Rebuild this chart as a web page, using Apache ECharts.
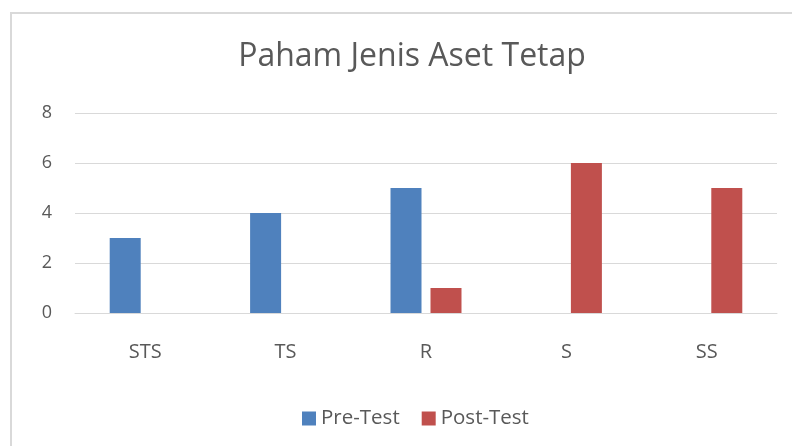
<!DOCTYPE html>
<html>
<head>
<meta charset="utf-8">
<script src="https://cdn.jsdelivr.net/npm/echarts@6/dist/echarts.min.js"></script>
<style>
  html, body { margin: 0; padding: 0; background: #fff; }
  #frame {
    position: absolute; left: 10px; top: 12px;
    width: 800px; height: 460px;
    border: 2px solid #d9d9d9;
    box-sizing: border-box;
  }
  #chart {
    position: absolute; left: 0; top: 0;
    width: 792px; height: 446px;
  }
</style>
</head>
<body>
<div id="frame"></div>
<div id="chart"></div>
<script>
// data
var categories = ["STS", "TS", "R", "S", "SS"];
var preTest = [3, 4, 5, 0, 0];
var postTest = [0, 0, 1, 6, 5];
var yTicks = [0, 2, 4, 6, 8];

var txt = "#595959";
var font = "'Open Sans', 'Noto Sans', sans-serif";

var chart = echarts.init(document.getElementById("chart"));
var option = {
  animation: false,
  textStyle: { fontFamily: font },
  title: {
    text: "Paham Jenis Aset Tetap",
    left: 407,
    textAlign: "center",
    top: 36,
    textStyle: { fontSize: 32, fontWeight: "normal", color: txt, fontFamily: font }
  },
  legend: {
    bottom: 12,
    left: 297,
    itemWidth: 14,
    itemHeight: 14,
    itemGap: 22,
    icon: "rect",
    textStyle: { fontSize: 20.5, color: txt, fontFamily: font }
  },
  grid: { left: 75, right: 15, top: 113, bottom: 133 },
  xAxis: {
    type: "category",
    data: categories,
    axisTick: { show: false },
    axisLine: { lineStyle: { color: "#d9d9d9", width: 1 } },
    axisLabel: { fontSize: 20, color: txt, margin: 29, fontFamily: font }
  },
  yAxis: {
    type: "value",
    min: yTicks[0],
    max: yTicks[yTicks.length - 1],
    interval: 2,
    axisLine: { show: false },
    axisTick: { show: false },
    splitLine: { lineStyle: { color: "#d9d9d9", width: 1 } },
    axisLabel: { fontSize: 18, color: txt, margin: 23, fontFamily: font }
  },
  series: [
    {
      name: "Pre-Test",
      type: "bar",
      data: preTest,
      barWidth: 31,
      barGap: "29%",
      itemStyle: { color: "#4f81bd" }
    },
    {
      name: "Post-Test",
      type: "bar",
      data: postTest,
      barWidth: 31,
      itemStyle: { color: "#c0504d" }
    }
  ]
};
chart.setOption(option);
</script>
</body>
</html>
